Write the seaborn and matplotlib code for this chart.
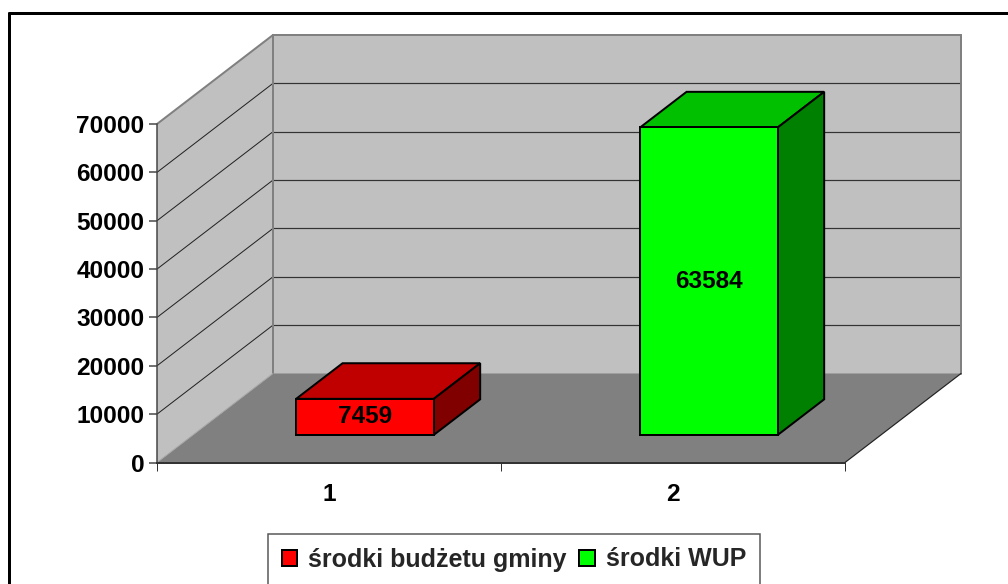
import pandas as pd
import matplotlib
matplotlib.use('Agg')
import matplotlib.pyplot as plt
from matplotlib.patches import Polygon
from matplotlib.lines import Line2D
from matplotlib.transforms import Affine2D, IdentityTransform
import seaborn as sns

categories = ['1', '2']
series_names = ['środki budżetu gminy', 'środki WUP']
values = [7459, 63584]
y_ticks = [0, 10000, 20000, 30000, 40000, 50000, 60000, 70000]

W, H = 1008, 584
DEPTH = (116, 89)      # glebia wykresu w pikselach
BAR_FRAC = 0.31        # przod slupka wzgledem podlogi
BAR_DEPTH = 0.40
WALL = '#C0C0C0'
FLOOR = '#808080'
FRONT = ['#FF0000', '#00FF00']
TOP = ['#C00000', '#00C000']
SIDE = ['#800000', '#008000']
PX = 0.72  # 1 px w punktach przy dpi=100

sns.set_theme(style='white')
plt.rcParams['font.family'] = ['Liberation Sans', 'DejaVu Sans']
plt.rcParams['font.weight'] = 'bold'

fig = plt.figure(figsize=(W / 100, H / 100), dpi=100, facecolor='white')
ax = fig.add_axes([157 / W, (H - 462.5) / H, 688 / W, 338.5 / H])
ax.patch.set_visible(False)

df = pd.DataFrame({'kategoria': categories, 'seria': series_names, 'wartosc': values})
sns.barplot(data=df, x='kategoria', y='wartosc', hue='seria', dodge=False, width=0.4,
            palette=FRONT, edgecolor='black', linewidth=2 * PX, saturation=1,
            ax=ax, zorder=6)
ax.set_xlim(-0.5, 1.5)
ax.set_ylim(0, 70000)
ax.set_xlabel('')
ax.set_ylabel('')


def pt(x, y, frac=0.0):
    px, py = ax.transData.transform((x, y))
    return (px + DEPTH[0] * frac, py + DEPTH[1] * frac)


def face(points, color, edge='none', lw=0, z=1):
    ax.add_patch(Polygon(points, closed=True, facecolor=color, edgecolor=edge, linewidth=lw * PX,
                         transform=IdentityTransform(), clip_on=False, zorder=z, joinstyle='miter'))


def line(a, b, color, lw, z=3):
    ax.add_line(Line2D([a[0], b[0]], [a[1], b[1]], color=color, linewidth=lw * PX,
                       transform=IdentityTransform(), clip_on=False, zorder=z))


x0, x1 = ax.get_xlim()
ymax = ax.get_ylim()[1]

# sciany i podloga
face([pt(x0, 0), pt(x0, ymax), pt(x0, ymax, 1), pt(x0, 0, 1)], WALL)
face([pt(x0, 0, 1), pt(x0, ymax, 1), pt(x1, ymax, 1), pt(x1, 0, 1)], WALL)
face([pt(x0, 0), pt(x1, 0), pt(x1, 0, 1), pt(x0, 0, 1)], FLOOR)

for t in y_ticks[1:-1]:
    line(pt(x0, t), pt(x0, t, 1), '#222222', 1)
    line(pt(x0, t, 1), pt(x1, t, 1), '#333333', 1.2)
line(pt(x0, ymax), pt(x0, ymax, 1), FLOOR, 2)
line(pt(x0, ymax, 1), pt(x1, ymax, 1), FLOOR, 2)
line(pt(x0, 0, 1), pt(x0, ymax, 1), FLOOR, 2)
line(pt(x1, 0, 1), pt(x1, ymax, 1), FLOOR, 2)
line(pt(x0, 0), pt(x0, 0, 1), '#A8A8A8', 1)
line(pt(x1, 0), pt(x1, 0, 1), '#222222', 1.2)

# slupki: przod przesuniety w glab, bok i gora dorysowane
shift = Affine2D().translate(DEPTH[0] * BAR_FRAC, DEPTH[1] * BAR_FRAC)
bars = [b for b in ax.patches if isinstance(b, matplotlib.patches.Rectangle) and b.get_height() > 0]
bars = sorted(bars, key=lambda b: b.get_x())
for i, b in enumerate(bars):
    b.set_transform(ax.transData + shift)
    b.set_clip_on(False)
    l, r, h = b.get_x(), b.get_x() + b.get_width(), b.get_height()
    f0, f1 = BAR_FRAC, BAR_FRAC + BAR_DEPTH
    face([pt(l, h, f0), pt(r, h, f0), pt(r, h, f1), pt(l, h, f1)], TOP[i], 'black', 2, z=5)
    face([pt(r, 0, f0), pt(r, h, f0), pt(r, h, f1), pt(r, 0, f1)], SIDE[i], 'black', 2, z=5)
    ax.text(l + b.get_width() / 2, h / 2, str(values[i]), transform=ax.transData + shift,
            ha='center', va='center', fontsize=17.6, fontweight='bold', color='black', zorder=7)

# osie
for s in ['top', 'right']:
    ax.spines[s].set_visible(False)
ax.spines['left'].set_color('#444444')
ax.spines['left'].set_linewidth(1.5 * PX)
ax.spines['bottom'].set_color('#333333')
ax.spines['bottom'].set_linewidth(2 * PX)
ax.spines['left'].set_zorder(8)
ax.spines['bottom'].set_zorder(8)
ax.set_yticks(y_ticks)
ax.set_yticklabels([str(t) for t in y_ticks], fontsize=17.6, fontweight='bold', color='black')
ax.tick_params(axis='y', left=True, length=6, width=1.5 * PX, color='#444444', pad=3)
ax.set_xticks([x0, 0.5, x1], minor=True)
ax.tick_params(axis='x', which='minor', bottom=True, length=6, width=1 * PX, color='#333333')
ax.tick_params(axis='x', which='major', bottom=False, length=0, pad=15)
for lab in ax.get_xticklabels():
    lab.set_fontsize(17.6)
    lab.set_fontweight('bold')
    lab.set_color('black')

sns.move_legend(ax, 'center', bbox_to_anchor=(514 / W, (H - 559.5) / H), bbox_transform=fig.transFigure,
                ncol=2, title=None, frameon=True, fancybox=False, fontsize=18,
                handlelength=0.62, handleheight=0.62, handletextpad=0.45, columnspacing=0.5,
                borderpad=0.55, borderaxespad=0, edgecolor='#555555', framealpha=1,
                prop={'family': 'Liberation Sans', 'weight': 'bold', 'size': 18})
ax.get_legend().get_frame().set_linewidth(1.5 * PX)
ax.get_legend().set_zorder(9)

# ramka obszaru wykresu (tylko gora i lewa strona mieszcza sie w kadrze)
fig.add_artist(Line2D([9, W], [H - 13, H - 13], color='black', linewidth=3 * PX, transform=IdentityTransform()))
fig.add_artist(Line2D([9, 9], [H - 13, 0], color='black', linewidth=3 * PX, transform=IdentityTransform()))

fig.savefig('out.png', dpi=100)
